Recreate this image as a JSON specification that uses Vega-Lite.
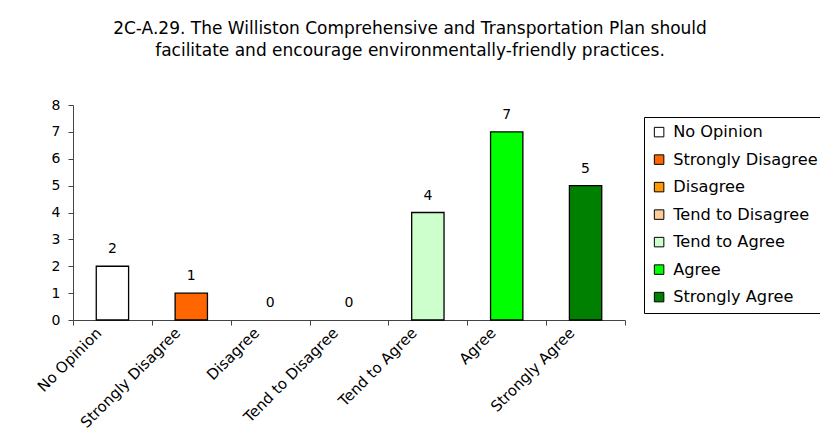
{
  "$schema": "https://vega.github.io/schema/vega-lite/v6.json",
  "autosize": {"type": "none"},
  "padding": {"left": 73, "top": 105, "right": 195, "bottom": 128},
  "width": 552,
  "height": 215,
  "background": "white",
  "title": {
    "text": ["2C-A.29.  The Williston Comprehensive and Transportation Plan should", "facilitate and encourage environmentally-friendly practices."],
    "anchor": "middle",
    "frame": "group",
    "dx": 61,
    "offset": 38,
    "font": "DejaVu Sans",
    "fontSize": 17,
    "fontWeight": "normal",
    "lineHeight": 22,
    "color": "black"
  },
  "data": {
    "values": [
      {"response": "No Opinion", "count": 2},
      {"response": "Strongly Disagree", "count": 1},
      {"response": "Disagree", "count": 0},
      {"response": "Tend to Disagree", "count": 0},
      {"response": "Tend to Agree", "count": 4},
      {"response": "Agree", "count": 7},
      {"response": "Strongly Agree", "count": 5}
    ]
  },
  "encoding": {
    "x": {
      "field": "response",
      "type": "nominal",
      "sort": null,
      "scale": {
        "domain": ["No Opinion", "Strongly Disagree", "Disagree", "Tend to Disagree", "Tend to Agree", "Agree", "Strongly Agree"],
        "paddingInner": 0,
        "paddingOuter": 0
      },
      "axis": {
        "title": null,
        "labelAngle": -45,
        "labelAlign": "right",
        "labelBaseline": "middle",
        "labelFont": "DejaVu Sans",
        "labelFontSize": 15,
        "labelColor": "black",
        "labelPadding": 5,
        "labelOffset": -14,
        "tickBand": "extent",
        "tickSize": 5,
        "tickColor": "#444444",
        "domainColor": "#444444",
        "labelLimit": 300
      }
    },
    "y": {
      "field": "count",
      "type": "quantitative",
      "scale": {"domain": [0, 8], "nice": false},
      "axis": {
        "title": null,
        "values": [0, 1, 2, 3, 4, 5, 6, 7, 8],
        "grid": false,
        "labelFont": "DejaVu Sans",
        "labelFontSize": 14,
        "labelColor": "black",
        "labelPadding": 8,
        "tickSize": 5,
        "tickColor": "#444444",
        "domainColor": "#444444"
      }
    }
  },
  "layer": [
    {
      "transform": [{"filter": "datum.count > 0"}],
      "mark": {"type": "bar", "width": {"band": 0.41}, "stroke": "black", "strokeWidth": 1.3},
      "encoding": {
        "color": {
          "field": "response",
          "type": "nominal",
          "sort": null,
          "scale": {
            "domain": ["No Opinion", "Strongly Disagree", "Disagree", "Tend to Disagree", "Tend to Agree", "Agree", "Strongly Agree"],
            "range": ["#FFFFFF", "#FF6600", "#FF9900", "#FFCC99", "#CCFFCC", "#00FF00", "#008000"]
          },
          "legend": {
            "title": null,
            "orient": "none",
            "legendX": 571,
            "legendY": 12,
            "symbolType": "square",
            "symbolSize": 90,
            "symbolStrokeColor": "black",
            "symbolStrokeWidth": 1,
            "labelFont": "DejaVu Sans",
            "labelFontSize": 16.2,
            "labelColor": "black",
            "labelOffset": 6,
            "labelLimit": 300,
            "rowPadding": 10.5,
            "padding": 7,
            "strokeColor": "black",
            "fillColor": "white"
          }
        }
      }
    },
    {
      "mark": {"type": "text", "baseline": "bottom", "dy": -10, "font": "DejaVu Sans", "fontSize": 14, "color": "black"},
      "encoding": {
        "text": {"field": "count", "type": "quantitative"}
      }
    }
  ],
  "config": {
    "view": {"stroke": null}
  }
}
